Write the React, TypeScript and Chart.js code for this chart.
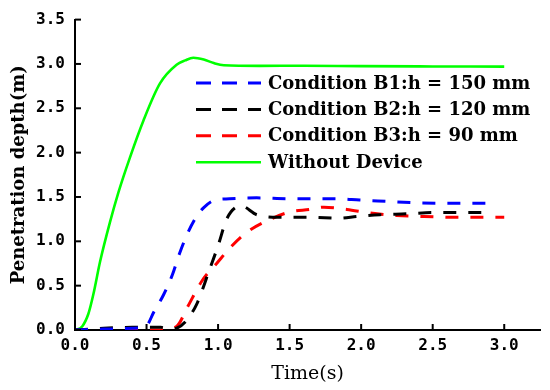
import React, { useEffect, useRef } from 'react';
import { Chart, registerables } from 'chart.js';

Chart.register(...registerables);

// ---- data ----
const seriesLabels = [
  'Condition B1:h = 150 mm',
  'Condition B2:h = 120 mm',
  'Condition B3:h = 90 mm',
  'Without Device',
];

const timeB1 = [0, 0.2, 0.4, 0.5, 0.55, 0.62, 0.68, 0.73, 0.79, 0.85, 0.9, 0.97, 1.08, 1.27, 1.5, 1.83, 1.99, 2.18, 2.37, 2.55, 2.95];
const depthB1 = [0, 0.01, 0.02, 0.05, 0.2, 0.4, 0.62, 0.86, 1.1, 1.28, 1.38, 1.46, 1.48, 1.49, 1.48, 1.48, 1.465, 1.45, 1.435, 1.43, 1.43];

const timeB2 = [0, 0.2, 0.4, 0.6, 0.66, 0.71, 0.77, 0.85, 0.94, 1.0, 1.06, 1.13, 1.16, 1.27, 1.41, 1.64, 1.85, 1.97, 2.13, 2.32, 2.51, 2.92];
const depthB2 = [0, 0.02, 0.03, 0.03, 0.01, 0.02, 0.09, 0.29, 0.68, 0.95, 1.25, 1.39, 1.4, 1.3, 1.27, 1.27, 1.26, 1.28, 1.3, 1.31, 1.325, 1.325];

const timeB3 = [0, 0.3, 0.6, 0.71, 0.79, 0.886, 1.0, 1.08, 1.2, 1.36, 1.5, 1.64, 1.74, 1.9, 2.06, 2.25, 2.44, 2.67, 3.0];
const depthB3 = [0, 0.0, 0.0, 0.04, 0.27, 0.55, 0.77, 0.92, 1.1, 1.245, 1.33, 1.36, 1.385, 1.36, 1.32, 1.29, 1.28, 1.27, 1.27];

const timeWithout = [0, 0.05, 0.093, 0.128, 0.175, 0.245, 0.303, 0.385, 0.478, 0.594, 0.71, 0.77, 0.827, 0.9, 0.97, 1.04, 1.29, 1.6, 2.0, 2.5, 3.0];
const depthWithout = [0, 0.04, 0.18, 0.4, 0.77, 1.22, 1.55, 1.95, 2.36, 2.78, 2.99, 3.04, 3.07, 3.05, 3.01, 2.985, 2.978, 2.98, 2.975, 2.972, 2.97];

const xTickValues = [0, 0.5, 1.0, 1.5, 2.0, 2.5, 3.0];
const yTickValues = [0, 0.5, 1.0, 1.5, 2.0, 2.5, 3.0, 3.5];

const toPoints = (xs: number[], ys: number[]) => xs.map((x, i) => ({ x, y: ys[i] }));
const fmt = (v: number) => Number(v).toFixed(1);

const tickMarks = {
  id: 'tickMarks',
  afterDraw(chart: any) {
    const { ctx } = chart;
    const xs = chart.scales.x;
    const ys = chart.scales.y;
    ctx.save();
    ctx.strokeStyle = '#000';
    ctx.lineWidth = 2;
    xs.ticks.forEach((t: any) => {
      const px = xs.getPixelForValue(t.value);
      ctx.beginPath();
      ctx.moveTo(px, xs.top);
      ctx.lineTo(px, xs.top - 6);
      ctx.stroke();
    });
    ys.ticks.forEach((t: any) => {
      const py = ys.getPixelForValue(t.value);
      ctx.beginPath();
      ctx.moveTo(ys.right, py);
      ctx.lineTo(ys.right + 6, py);
      ctx.stroke();
    });
    ctx.restore();
  },
};

const insideLegend = {
  id: 'insideLegend',
  afterDraw(chart: any, _args: any, opts: any) {
    const { ctx } = chart;
    ctx.save();
    chart.data.datasets.forEach((ds: any, i: number) => {
      const y = opts.top + i * opts.rowGap;
      ctx.strokeStyle = ds.borderColor;
      ctx.lineWidth = ds.borderWidth;
      ctx.setLineDash(ds.borderDash && ds.borderDash.length ? opts.dash : []);
      ctx.beginPath();
      ctx.moveTo(opts.left, y);
      ctx.lineTo(opts.left + opts.lineLength, y);
      ctx.stroke();
      ctx.setLineDash([]);
      ctx.fillStyle = '#000';
      ctx.font = opts.font;
      ctx.textBaseline = 'middle';
      ctx.textAlign = 'left';
      ctx.fillText(ds.label, opts.left + opts.lineLength + opts.gap, y + 1);
    });
    ctx.restore();
  },
};

export default function App() {
  const canvasRef = useRef<HTMLCanvasElement | null>(null);

  useEffect(() => {
    document.body.style.margin = '0';
    const canvas = canvasRef.current;
    if (!canvas) return;
    const dash = [13, 12];
    const tickFont = { family: '"DejaVu Sans Mono"', weight: 'bold', size: 16 };
    const chart = new Chart(canvas, {
      type: 'line',
      data: {
        datasets: [
          { label: seriesLabels[0], data: toPoints(timeB1, depthB1), borderColor: '#0000ff', borderWidth: 3, borderDash: dash, pointRadius: 0, cubicInterpolationMode: 'monotone', fill: false },
          { label: seriesLabels[1], data: toPoints(timeB2, depthB2), borderColor: '#000000', borderWidth: 3, borderDash: dash, pointRadius: 0, cubicInterpolationMode: 'monotone', fill: false },
          { label: seriesLabels[2], data: toPoints(timeB3, depthB3), borderColor: '#ff0000', borderWidth: 3, borderDash: dash, pointRadius: 0, cubicInterpolationMode: 'monotone', fill: false },
          { label: seriesLabels[3], data: toPoints(timeWithout, depthWithout), borderColor: '#00ff00', borderWidth: 2.6, pointRadius: 0, cubicInterpolationMode: 'monotone', fill: false },
        ],
      },
      options: {
        responsive: false,
        animation: false,
        layout: { padding: { top: 11, right: 10, left: 0, bottom: 0 } },
        plugins: {
          legend: { display: false },
          tooltip: { enabled: false },
          insideLegend: {
            left: 196,
            lineLength: 65,
            gap: 7,
            top: 83,
            rowGap: 26.4,
            dash: [15, 11],
            font: 'bold 18px "DejaVu Serif"',
          },
        } as any,
        scales: {
          x: {
            type: 'linear',
            min: 0,
            max: 3.25,
            afterFit: (s: any) => { s.height = 60; },
            afterBuildTicks: (s: any) => { s.ticks = xTickValues.map((v) => ({ value: v })); },
            grid: { display: false, drawTicks: false },
            border: { display: true, color: '#000', width: 2 },
            ticks: {
              autoSkip: false,
              maxRotation: 0,
              padding: 6,
              color: '#000',
              font: tickFont,
              callback: (v: any) => fmt(v),
            },
            title: {
              display: true,
              text: 'Time(s)',
              color: '#000',
              font: { family: '"DejaVu Serif"', size: 19 },
              padding: { top: 0, bottom: 5 },
            },
          },
          y: {
            type: 'linear',
            min: 0,
            max: 3.5,
            afterFit: (s: any) => { s.width = 75; },
            afterBuildTicks: (s: any) => { s.ticks = yTickValues.map((v) => ({ value: v })); },
            grid: { display: false, drawTicks: false },
            border: { display: true, color: '#000', width: 2 },
            ticks: {
              autoSkip: false,
              padding: 10,
              color: '#000',
              font: tickFont,
              callback: (v: any) => fmt(v),
            },
            title: {
              display: true,
              text: 'Penetration depth(m)',
              color: '#000',
              font: { family: '"DejaVu Serif"', size: 18, weight: 'bold' },
              padding: { top: 9, bottom: 0 },
            },
          },
        },
      },
      plugins: [tickMarks, insideLegend],
    } as any);
    return () => chart.destroy();
  }, []);

  return (
    <div style={{ width: 550, height: 390 }}>
      <canvas ref={canvasRef} width={550} height={390} />
    </div>
  );
}
